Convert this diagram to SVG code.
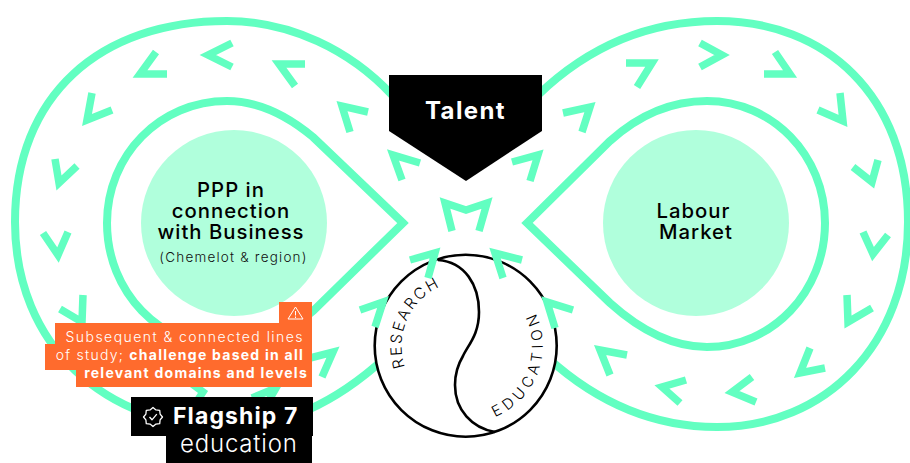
<svg xmlns="http://www.w3.org/2000/svg" width="910" height="463" viewBox="0 0 910 463">
<style>
.loop{fill:none;stroke:#62ffc1;stroke-width:8;stroke-linejoin:miter}
.c{fill:none;stroke:#62ffc1;stroke-width:7.500;stroke-linejoin:miter}
text{font-family:"Inter","Open Sans","Liberation Sans",sans-serif}
.h{font-size:20.300px;font-weight:500;fill:#000;text-anchor:middle;letter-spacing:1px}
.o{font-size:14px;fill:#fff;font-weight:300;letter-spacing:1.250px}
</style>
<rect width="910" height="463" fill="#fff"/>
<g id="loops">
<path class="loop" d="M392,95 C350,50 290,21 227,21 C100,21 15,95 15,222 C15,345 105,427 227,427 C285,427 335,403 385,358"/>
<path class="loop" d="M538,95 C590,45 650,21 717,21 C825,21 908,95 908,222 C908,345 825,427 717,427 C655,427 600,405 548,358"/>
<path class="loop" d="M403,223 L313,137 C283,112 255,101 227,101 C160,101 107,155 107,223 C107,292 160,347 227,347 C258,347 285,335 313,311 Z"/>
<path class="loop" d="M527,223 L610,141 C640,114 672,101 707,101 C772,101 825,155 825,223 C825,292 772,347 707,347 C672,347 640,330 610,303 Z"/>
</g>
<g id="node-ppp">
<circle cx="234" cy="223" r="93" fill="#b0ffdc"/>
<text class="h" x="231" y="197">PPP in</text>
<text class="h" x="231" y="218">connection</text>
<text class="h" x="231" y="239">with Business</text>
<text x="233.500" y="262" font-size="13.500" font-weight="300" text-anchor="middle" fill="#111" letter-spacing="1.200">(Chemelot &amp; region)</text>
</g>
<g id="node-labour">
<circle cx="696" cy="223" r="93" fill="#b0ffdc"/>
<text class="h" x="693.500" y="218">Labour</text>
<text class="h" x="696" y="239">Market</text>
</g>
<g id="node-research-education">
<circle cx="465.700" cy="345.700" r="91" fill="#fff" stroke="#000" stroke-width="2.600"/>
<path d="M438,260 C465,262 479,285 479,312 C479,335 468,345 463,356 C457,366 455,375 455,385 C455,410 472,428 495,432" fill="none" stroke="#000" stroke-width="2.600"/>
<defs>
<path id="arcR" d="M405,367 A65,65 0 0 1 466,281"/>
<path id="arcE" d="M495,417 A77,77 0 0 0 524.700,296.200"/>
</defs>
<text font-size="15.500" font-weight="300" fill="#000" letter-spacing="2"><textPath href="#arcR">RESEARCH</textPath></text>
<text font-size="15" font-weight="300" fill="#000" letter-spacing="4.700"><textPath href="#arcE">EDUCATION</textPath></text>
</g>
<g id="connectors">
<polyline class="c" points="232,43 208,55 232,67"/>
<polyline class="c" points="156,52 140,74 167,74"/>
<polyline class="c" points="305,64 279,64 295,86"/>
<polyline class="c" points="368,112 342,106 350,132"/>
<polyline class="c" points="420,163 393,155 402,180"/>
<polyline class="c" points="512,162 538,155 530,181"/>
<polyline class="c" points="452,231 445,203 466,210 487,203 479,231"/>
<polyline class="c" points="410,260 435,253 428,278"/>
<polyline class="c" points="522,260 495,253 503,278"/>
<polyline class="c" points="360,310 383,302 375,327"/>
<polyline class="c" points="573,310 547,302 555,328"/>
<polyline class="c" points="310,358 333,352 322,377"/>
<polyline class="c" points="92,93 87,120 112,110"/>
<polyline class="c" points="55,159 59,183 77,166"/>
<polyline class="c" points="43,233 58,255 68,232"/>
<polyline class="c" points="60,309 82,322 83,295"/>
<polyline class="c" points="180,375 203,392 190,412"/>
<polyline class="c" points="252,398 276,388 262,412"/>
<polyline class="c" points="563,113 590,107 582,132"/>
<polyline class="c" points="626,63 652,63 637,87"/>
<polyline class="c" points="700,43 722,55 700,67"/>
<polyline class="c" points="775,52 790,74 764,74"/>
<polyline class="c" points="840,93 843,121 818,110"/>
<polyline class="c" points="878,160 872,182 853,167"/>
<polyline class="c" points="863,232 873,254 888,235"/>
<polyline class="c" points="847,295 848,322 872,308"/>
<polyline class="c" points="810,348 800,373 825,368"/>
<polyline class="c" points="752,377 732,392 756,402"/>
<polyline class="c" points="686,380 662,387 680,403"/>
<polyline class="c" points="627,355 600,350 610,375"/>
</g>
<g id="node-talent">
<polygon points="389,75 542,75 542,131 466,181 389,131" fill="#000"/>
<text x="465.500" y="118.500" font-size="24" font-weight="700" fill="#fff" text-anchor="middle" letter-spacing="1.400">Talent</text>
</g>
<g id="node-note">
<polygon points="279,302 312,302 312,387 76,387 76,370 45,370 45,344 55,344 55,323 279,323" fill="#ff6b2d"/>
<path d="M295.500,307 L303,319 L288,319 Z M295.500,311 V315.500 M295.500,316.500 V318" fill="none" stroke="#fff" stroke-width="1"/>
<text class="o" x="304" y="342" text-anchor="end" style="letter-spacing:1.450px">Subsequent &amp; connected lines</text>
<text class="o" x="304" y="360" text-anchor="end">of study; <tspan font-weight="700">challenge based in all</tspan></text>
<text class="o" x="308" y="378" text-anchor="end" style="font-weight:700">relevant domains and levels</text>
</g>
<g id="node-flagship">
<rect x="131" y="397" width="182" height="39" fill="#000"/>
<rect x="166" y="436" width="146" height="27" fill="#000"/>
<g transform="translate(153,417)" fill="none" stroke="#fff" stroke-width="1.300" stroke-linejoin="round">
<polygon points="9.500,0 7.100,2.950 6.720,6.720 2.950,7.100 0,9.500 -2.950,7.100 -6.720,6.720 -7.100,2.950 -9.500,0 -7.100,-2.950 -6.720,-6.720 -2.950,-7.100 0,-9.500 2.950,-7.100 6.720,-6.720 7.100,-2.950"/>
<polyline points="-3.500,0 -1,2.800 3.800,-2.800"/>
</g>
<text x="173" y="424" font-size="23" font-weight="700" fill="#fff" letter-spacing="1.100">Flagship 7</text>
<text x="180" y="452" font-size="24" font-weight="300" fill="#fff" letter-spacing="0.800">education</text>
</g>
</svg>
